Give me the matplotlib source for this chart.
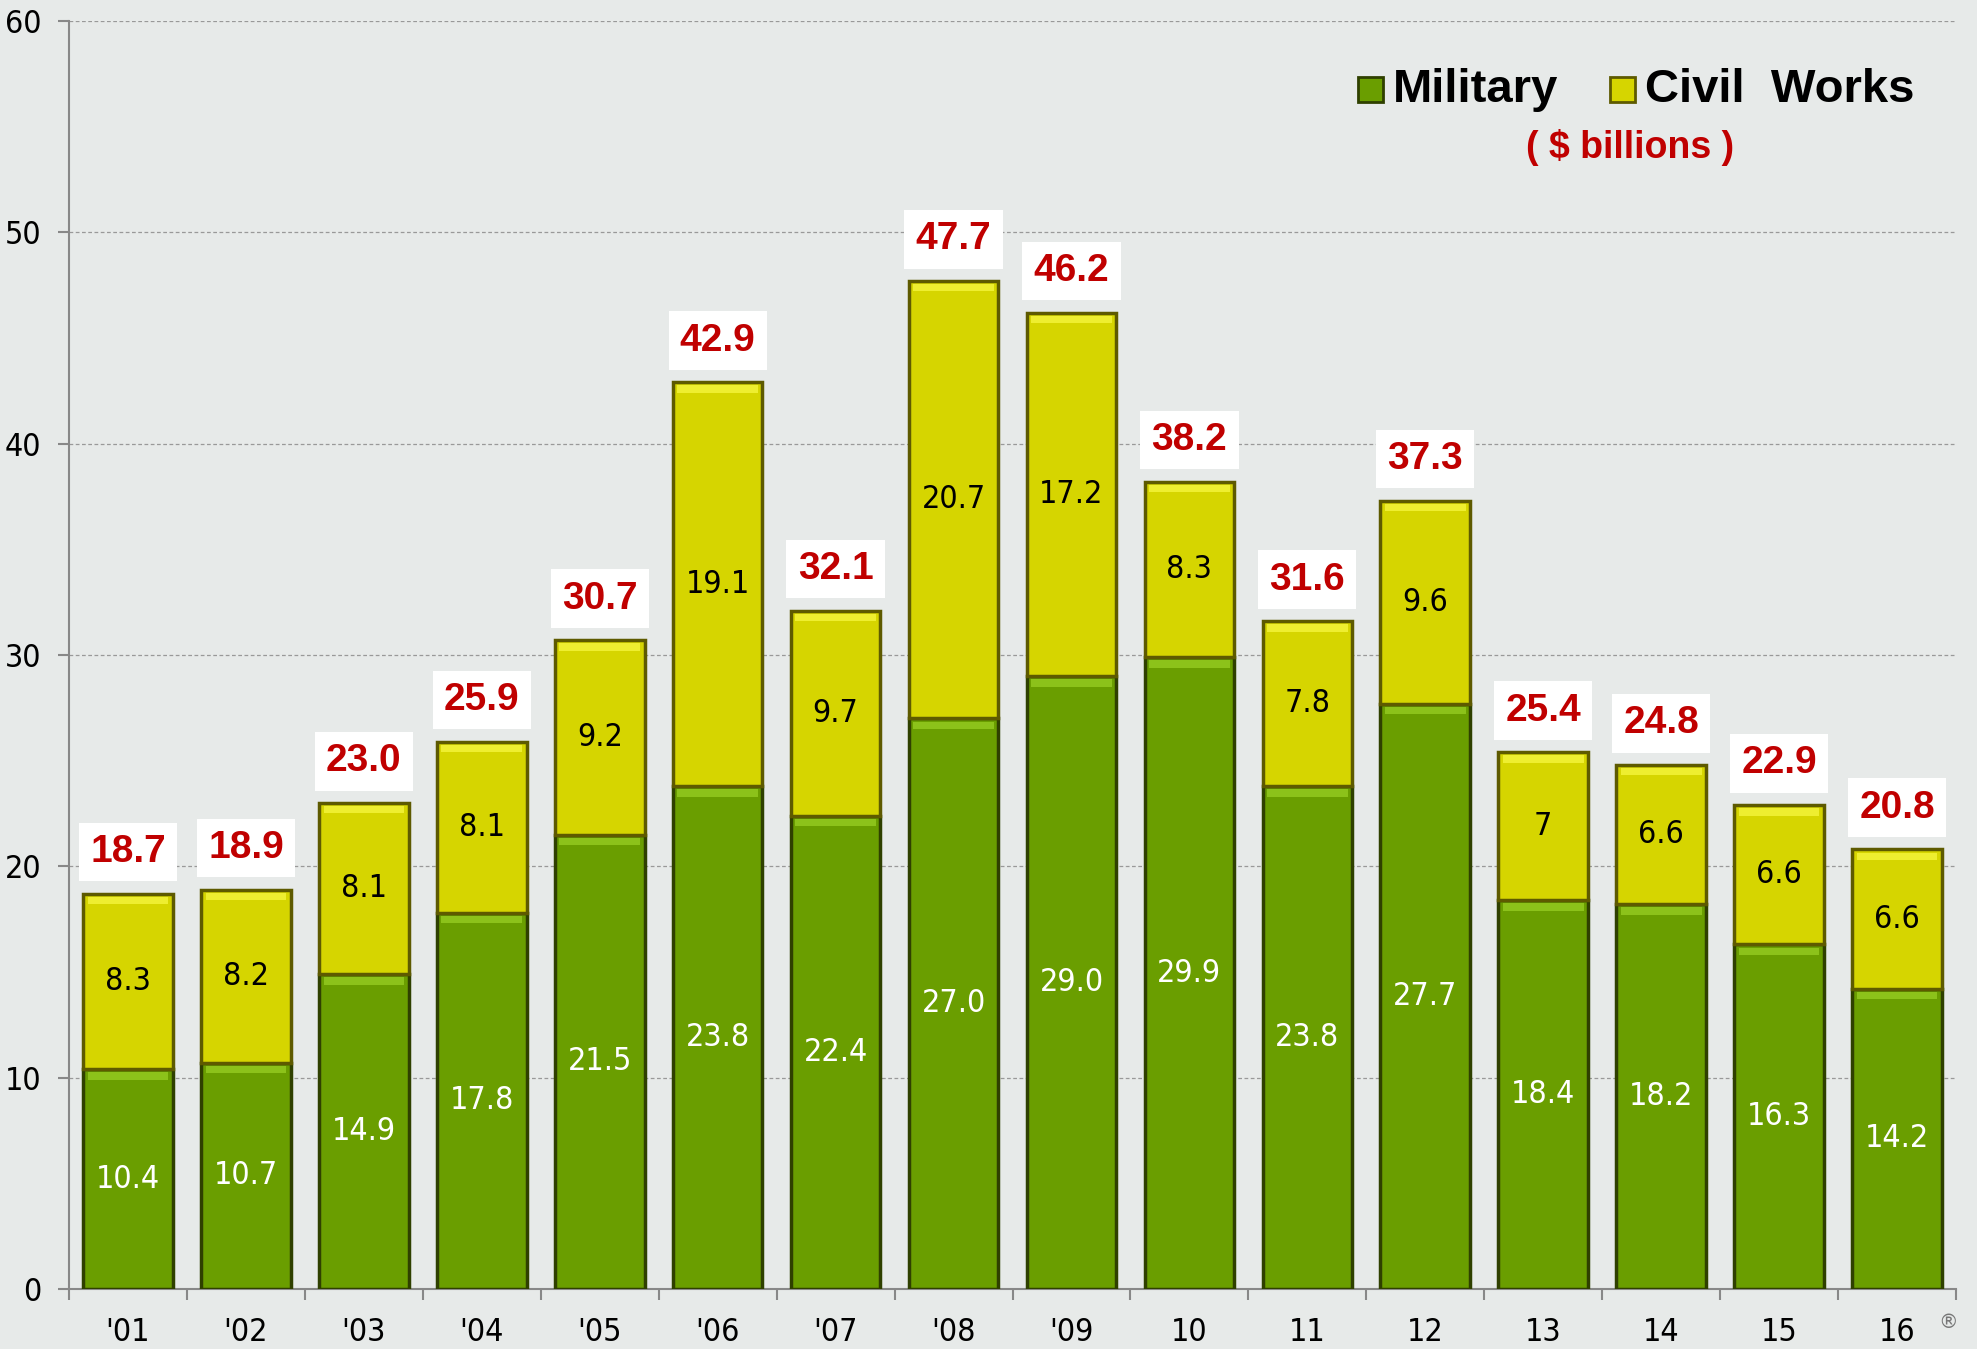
import matplotlib.pyplot as plt
from matplotlib.patches import Rectangle
import numpy as np

years = ["'01", "'02", "'03", "'04", "'05", "'06", "'07", "'08", "'09",
         "10", "11", "12", "13", "14", "15", "16"]
military = [10.4, 10.7, 14.9, 17.8, 21.5, 23.8, 22.4, 27.0, 29.0, 29.9,
            23.8, 27.7, 18.4, 18.2, 16.3, 14.2]
civil = [8.3, 8.2, 8.1, 8.1, 9.2, 19.1, 9.7, 20.7, 17.2, 8.3, 7.8, 9.6,
         7.0, 6.6, 6.6, 6.6]
civil_labels = ['8.3', '8.2', '8.1', '8.1', '9.2', '19.1', '9.7', '20.7',
                '17.2', '8.3', '7.8', '9.6', '7', '6.6', '6.6', '6.6']
totals = [18.7, 18.9, 23.0, 25.9, 30.7, 42.9, 32.1, 47.7, 46.2, 38.2,
          31.6, 37.3, 25.4, 24.8, 22.9, 20.8]

narrow = ['DejaVu Sans']
bold = ['Liberation Sans', 'DejaVu Sans']

bg = '#e7eae9'
green = '#6a9e00'
yellow = '#d6d500'

fig = plt.figure(figsize=(19.77, 13.49), dpi=100, facecolor=bg)
ax = fig.add_axes([0.0349, 0.0445, 0.9545, 0.94])
ax.set_facecolor(bg)

x = np.arange(len(years))
w = 0.76
ax.bar(x, military, w, color=green, edgecolor='#2f4000', linewidth=2.5, zorder=3)
ax.bar(x, civil, w, bottom=military, color=yellow, edgecolor='#5e5a00',
       linewidth=2.5, zorder=3)
# top highlight strip
ax.bar(x, [0.35] * len(x), w * 0.9, bottom=np.array(military) - 0.5,
       color='#8cc21a', linewidth=0, zorder=4)
ax.bar(x, [0.35] * len(x), w * 0.9, bottom=np.array(totals) - 0.5,
       color='#eeee30', linewidth=0, zorder=4)

for i in range(len(x)):
    ax.text(x[i], military[i] / 2, f'{military[i]:.1f}', ha='center', va='center',
            color='white', fontsize=23, family=narrow, fontstretch='condensed',
            zorder=5)
    ax.text(x[i], military[i] + civil[i] / 2, civil_labels[i], ha='center',
            va='center', color='black', fontsize=23, family=narrow,
            fontstretch='condensed', zorder=5)
    ax.annotate(f'{totals[i]:.1f}', (x[i], totals[i]), xytext=(0, 17),
                textcoords='offset points', ha='center', va='bottom',
                color='#c00000', fontsize=28, fontweight='bold', family=bold,
                bbox=dict(facecolor='white', edgecolor='none', pad=8), zorder=5)

ax.set_xlim(-0.5, len(x) - 0.5)
ax.set_ylim(0, 60)
ax.set_yticks(range(0, 61, 10))
ax.grid(axis='y', linestyle=(0, (3, 2)), color='#999999', linewidth=0.9, zorder=1)
ax.set_xticks(x)
ax.set_xticklabels(years)
ax.set_xticks(np.arange(-0.5, len(x), 1), minor=True)
ax.tick_params(axis='x', which='major', length=0, pad=20, labelsize=23)
ax.tick_params(axis='x', which='minor', length=8, width=1.5, color='#888888')
ax.tick_params(axis='y', length=8, width=1.5, color='#888888', pad=12, labelsize=23)
for lab in ax.get_xticklabels() + ax.get_yticklabels():
    lab.set_family(narrow)
    lab.set_fontstretch('condensed')
for s in ['top', 'right']:
    ax.spines[s].set_visible(False)
for s in ['left', 'bottom']:
    ax.spines[s].set_color('#888888')
    ax.spines[s].set_linewidth(1.5)

# legend
fig.add_artist(Rectangle((1358 / 1977, 1 - 102 / 1349), 25 / 1977, 25 / 1349,
                         transform=fig.transFigure, facecolor=green,
                         edgecolor='#2f4000', linewidth=2))
fig.text(1393 / 1977, 1 - 90 / 1349, 'Military', fontsize=34, fontweight='bold',
         family=bold, va='center', ha='left')
fig.add_artist(Rectangle((1610 / 1977, 1 - 102 / 1349), 25 / 1977, 25 / 1349,
                         transform=fig.transFigure, facecolor=yellow,
                         edgecolor='#5e5a00', linewidth=2))
fig.text(1645 / 1977, 1 - 90 / 1349, 'Civil  Works', fontsize=34, fontweight='bold',
         family=bold, va='center', ha='left')
fig.text(1630 / 1977, 1 - 148 / 1349, '( $ billions )', fontsize=27,
         fontweight='bold', family=bold, color='#c00000', va='center', ha='center')
fig.text(1948 / 1977, 1 - 1322 / 1349, '®', fontsize=14, color='#777777',
         va='center', ha='center')

fig.savefig('out.png', dpi=100, facecolor=bg)
